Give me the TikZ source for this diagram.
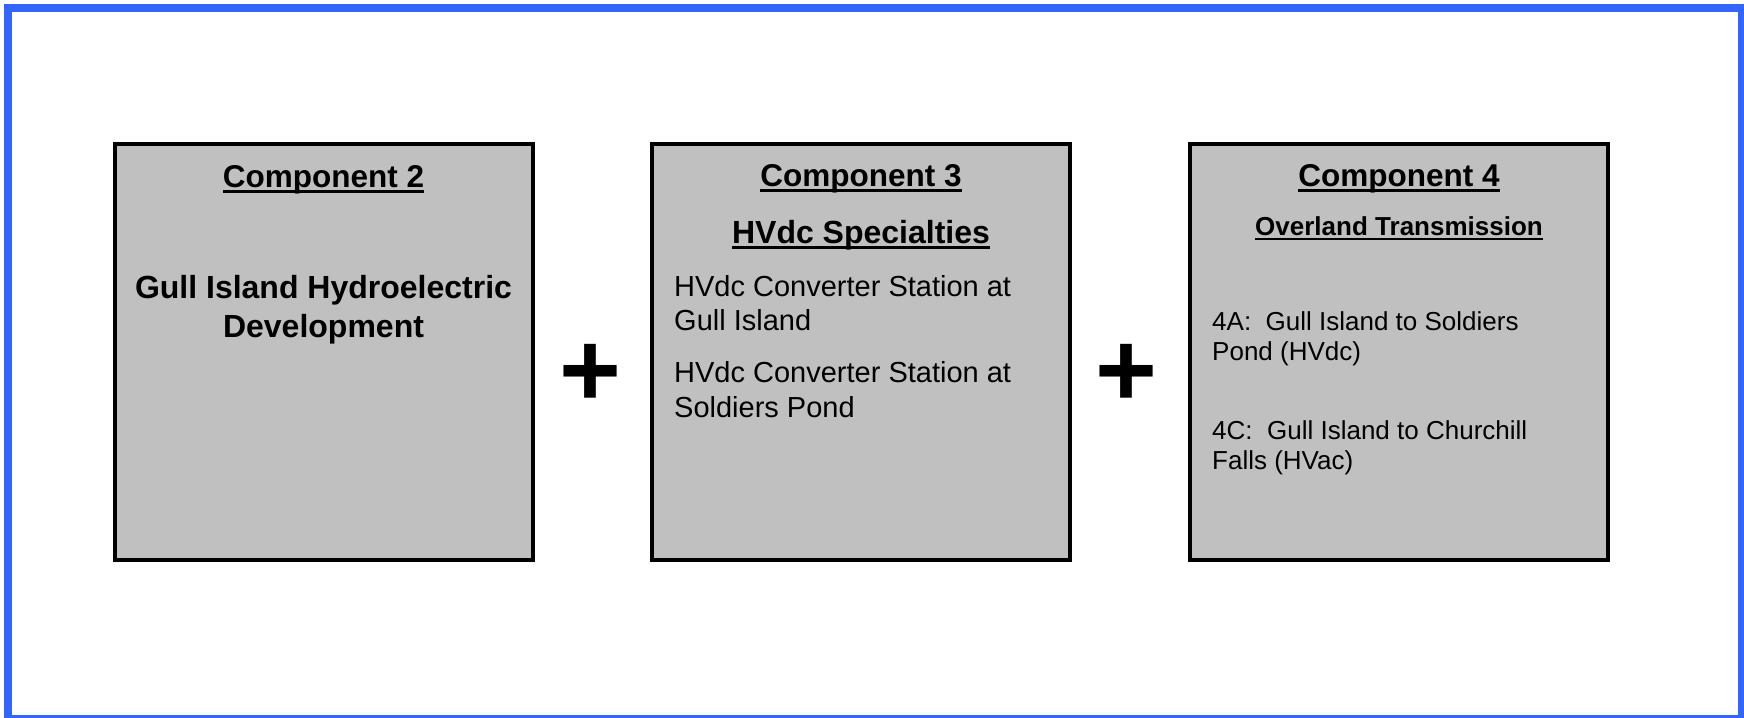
\documentclass[tikz,border=0pt]{standalone}
\usepackage{fontspec}
\setmainfont{Liberation Sans}
\definecolor{framec}{HTML}{3366FF}
\definecolor{boxgray}{HTML}{C0C0C0}
% underline drawn as a rule scaled to the current font
\newcommand{\ulbar}[1]{\leavevmode\setbox0\hbox{#1}\rlap{\rule[-0.18em]{\wd0}{0.08em}}\box0}
\tikzset{
  frameline/.style={draw=framec, line width=8pt},
  compbox/.style={draw=black, line width=4pt, fill=boxgray, minimum width=418pt,
    minimum height=416pt, inner sep=0pt, outer sep=0pt},
  heading/.style={anchor=base, inner sep=0pt, font=\fontsize{31.5}{38}\selectfont\bfseries},
  subhead/.style={anchor=base, inner sep=0pt, font=\fontsize{32}{38}\selectfont\bfseries},
  smallhead/.style={anchor=base, inner sep=0pt, font=\fontsize{26}{31}\selectfont\bfseries},
  bodyline/.style={anchor=base west, inner sep=0pt, font=\fontsize{29}{35}\selectfont},
  smallline/.style={anchor=base west, inner sep=0pt, font=\fontsize{26}{31}\selectfont},
  plussign/.style={anchor=base, inner sep=0pt, font=\fontsize{106}{106}\selectfont\bfseries},
}
\begin{document}
\begin{tikzpicture}[x=1pt, y=-1pt]
\useasboundingbox (0,0) rectangle (1744,717);
% outer frame
\draw[frameline] (8,8) rectangle (1742,719);

% three component boxes
\node[compbox] (c2) at (323.5,352.3) {};
\node[compbox] (c3) at (861,352.3) {};
\node[compbox] (c4) at (1399,352.3) {};

% component 2
\node[heading] (c2t) at (323.5,187) {\ulbar{Component 2}};
\node[subhead] (c2a) at (323.5,298) {Gull Island Hydroelectric};
\node[subhead] (c2b) at (323.5,337) {Development};

% component 3
\node[heading] (c3t) at (861,186) {\ulbar{Component 3}};
\node[subhead] (c3s) at (861,243) {\ulbar{HVdc Specialties}};
\node[bodyline] (c3a) at (674,296) {HVdc Converter Station at};
\node[bodyline] (c3b) at (674,330.5) {Gull Island};
\node[bodyline] (c3c) at (674,382) {HVdc Converter Station at};
\node[bodyline] (c3d) at (674,417) {Soldiers Pond};

% component 4
\node[heading] (c4t) at (1399,186) {\ulbar{Component 4}};
\node[smallhead] (c4s) at (1399,235) {\ulbar{Overland Transmission}};
\node[smallline] (c4a) at (1212,330) {4A:\ \ Gull Island to Soldiers};
\node[smallline] (c4b) at (1212,360.5) {Pond (HVdc)};
\node[smallline] (c4c) at (1212,439) {4C:\ \ Gull Island to Churchill};
\node[smallline] (c4d) at (1212,469.5) {Falls (HVac)};

% plus signs between the boxes
\node[plussign] (p1) at (590,406) {+};
\node[plussign] (p2) at (1126,406) {+};
\end{tikzpicture}
\end{document}
